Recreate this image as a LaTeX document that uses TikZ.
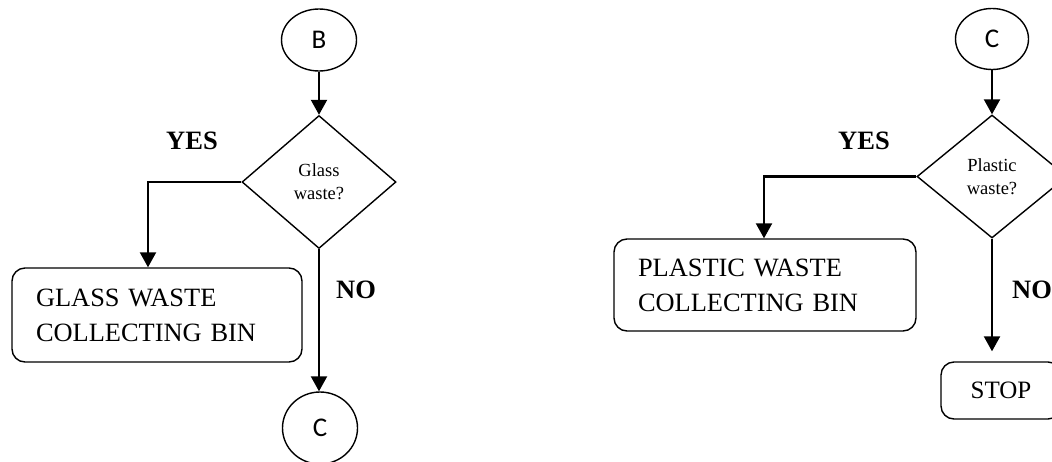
\documentclass[tikz,border=0pt]{standalone}
\usepackage{fontspec}
\setmainfont{Liberation Serif}
\newfontfamily\circfont{Carlito}
\usetikzlibrary{shapes.geometric,arrows.meta}
\tikzset{
  conn/.style={ellipse,draw,line width=1.4pt,minimum width=75pt,minimum height=62pt,inner sep=0pt,font=\circfont\fontsize{27}{30}\selectfont},
  decision/.style={diamond,draw,line width=1.4pt,inner sep=0pt,align=center,font=\fontsize{18.5}{23}\selectfont},
  binbox/.style={rectangle,rounded corners=13pt,draw,line width=1.4pt,align=left,font=\fontsize{26.4}{35}\selectfont},
  lbl/.style={font=\bfseries\fontsize{26.5}{30}\selectfont,inner sep=0pt},
  arr/.style={line width=2.2pt,-{Triangle[width=16pt,length=15pt]}},
}
\begin{document}
\begin{tikzpicture}[x=1pt,y=-1pt]
\useasboundingbox (0,0) rectangle (1052,461);
\clip (0,0) rectangle (1052,461);
% left flow
\node[conn] (B) at (319,40) {B};
\node[decision,minimum width=154pt,minimum height=133pt] (d1) at (319,182) {Glass\\waste?};
\node[binbox,minimum width=290pt,minimum height=94pt,text width=242pt] (gbox) at (157,315) {GLASS WASTE\\COLLECTING BIN};
\node[conn,minimum height=72pt] (C1) at (320,428) {C};
\node[lbl] (yes1) at (192,141) {YES};
\node[lbl] (no1) at (356,290) {NO};
\draw[arr] (B) -- (d1.north);
\draw[arr] (d1.west) -| ([xshift=-9pt]gbox.north);
\draw[arr] (d1.south) -- (d1.south |- C1.north);
% right flow
\node[conn,minimum width=73pt,minimum height=61pt] (C2) at (992,39) {C};
\node[decision,minimum width=150pt,minimum height=123pt] (d2) at (992,176.5) {Plastic\\waste?};
\node[binbox,minimum width=302pt,minimum height=92pt,text width=254pt] (pbox) at (765,285) {PLASTIC WASTE\\COLLECTING BIN};
\node[binbox,minimum width=120pt,minimum height=57pt,align=center,text width=] (stop) at (1001,390.5) {\fontsize{25}{30}\selectfont STOP};
\node[lbl] (yes2) at (864,141) {YES};
\node[lbl] (no2) at (1032,290) {NO};
\draw[arr] (C2) -- (d2.north);
\draw[arr] (d2.west) -| ([xshift=-1pt]pbox.north);
\draw[arr,shorten >=10pt] (d2.south) -- (d2.south |- stop.north);
\end{tikzpicture}
\end{document}
